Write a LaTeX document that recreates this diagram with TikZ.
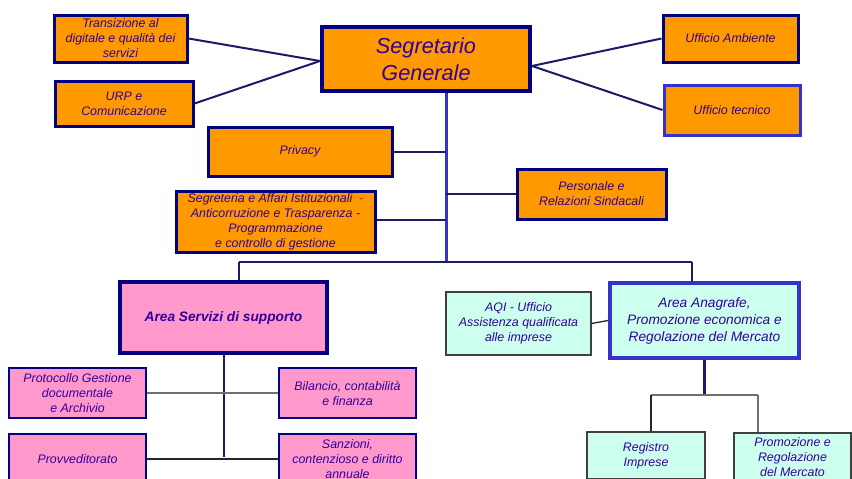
\documentclass[tikz,border=0pt]{standalone}
\usepackage{fontspec}
\setmainfont{Liberation Sans}
\usetikzlibrary{calc}
\definecolor{orng}{HTML}{FF9900}
\definecolor{pnk}{HTML}{FF99CC}
\definecolor{cyn}{HTML}{CCFFEE}
\definecolor{nvy}{HTML}{000080}
\definecolor{mblue}{HTML}{3333CC}
\definecolor{txt}{HTML}{330099}
\definecolor{lnk}{HTML}{1A1A66}
\definecolor{gry}{HTML}{707070}
\tikzset{
  base/.style={rectangle, inner sep=1pt, align=center, text=txt,
    font=\fontsize{12.4}{15}\selectfont\itshape},
  orbox/.style={base, fill=orng, draw=nvy, line width=3pt},
  bigbox/.style={base, fill=orng, draw=nvy, line width=4pt,
    font=\fontsize{21.7}{26.5}\selectfont\itshape},
  pkarea/.style={base, fill=pnk, draw=nvy, line width=4pt,
    font=\fontsize{13.7}{17}\selectfont\bfseries\itshape},
  pkbox/.style={base, fill=pnk, draw=nvy, line width=2.5pt},
  cyarea/.style={base, fill=cyn, draw=mblue, line width=4pt,
    font=\fontsize{13.7}{17}\selectfont\itshape},
  cybox/.style={base, fill=cyn, draw=black!75, line width=1.2pt},
  conn/.style={draw=lnk, line width=2pt},
  spine/.style={draw=mblue, line width=3pt},
  thin/.style={draw=gry, line width=1.3pt},
  thinb/.style={draw=black!85, line width=1.3pt},
}
\begin{document}
\begin{tikzpicture}[x=1pt,y=-1pt]
\useasboundingbox (0,0) rectangle (852,479);
% coordinates
\coordinate (jn) at (446,262);
\coordinate (bl) at (239,262);
\coordinate (br) at (692,262);
\coordinate (ab) at (704.5,395);
\coordinate (ra) at (651,395);
\coordinate (pa) at (758,395);
\coordinate (sb) at (223.5,457);
% connectors (under boxes)
\node[bigbox, minimum width=208pt, minimum height=64pt] (seg) at (426,59) {Segretario\\Generale};
\node[orbox, minimum width=133pt, minimum height=47pt] (trans) at (120.5,38.5) {Transizione al\\digitale e qualità dei\\servizi};
\node[orbox, minimum width=138pt, minimum height=45pt] (urp) at (124,103.5) {URP e\\Comunicazione};
\node[orbox, minimum width=184pt, minimum height=49pt] (priv) at (300,151.5) {Privacy};
\node[orbox, minimum width=199pt, minimum height=61pt] (segr) at (275.5,221.5) {Segreteria e Affari Istituzionali \ \textcolor{red}{-}\\Anticorruzione e Trasparenza -\\Programmazione\\e controllo di gestione};
\node[orbox, minimum width=135pt, minimum height=47pt] (amb) at (730.5,38.5) {Ufficio Ambiente};
\node[orbox, draw=mblue, minimum width=136pt, minimum height=50pt] (tec) at (732,110) {Ufficio tecnico};
\node[orbox, minimum width=149pt, minimum height=50pt] (pers) at (591.5,194) {Personale e\\Relazioni Sindacali};
\node[pkarea, minimum width=207pt, minimum height=71pt] (asup) at (223.5,317.5) {Area Servizi di supporto};
\node[cyarea, minimum width=189pt, minimum height=75pt] (anag) at (704.5,320.5) {Area Anagrafe,\\Promozione economica e\\Regolazione del Mercato};
\node[cybox, minimum width=145pt, minimum height=63pt] (aqi) at (518.5,323.5) {AQI - Ufficio\\Assistenza qualificata\\alle imprese};
\node[pkbox, minimum width=137pt, minimum height=50pt] (prot) at (77.5,393) {Protocollo Gestione\\documentale\\e Archivio};
\node[pkbox, minimum width=137pt, minimum height=50pt] (bil) at (347.5,393) {Bilancio, contabilità\\e finanza};
\node[pkbox, minimum width=137pt, minimum height=50pt] (prov) at (77.5,459) {Provveditorato};
\node[pkbox, minimum width=137pt, minimum height=50pt] (sanz) at (347.5,459) {Sanzioni,\\contenzioso e diritto\\annuale};
\node[cybox, minimum width=118pt, minimum height=47pt] (reg) at (646,455.5) {Registro\\Imprese};
\node[cybox, minimum width=117pt, minimum height=48pt] (prom) at (792.5,457) {Promozione e\\Regolazione\\del Mercato};
% links
\begin{scope}[on background layer/.style={}]
\end{scope}
\draw[conn] (trans.east) -- ($(seg.west)+(0,2)$);
\draw[conn] (urp.east) -- ($(seg.west)+(0,2)$);
\draw[conn] ($(seg.east)+(0,7)$) -- (amb.west);
\draw[conn] ($(seg.east)+(0,7)$) -- (tec.west);
\draw[spine] (seg.south -| jn) -- (jn);
\draw[conn] (priv.east) -- (priv.east -| jn);
\draw[conn] ($(segr.east)+(0,-2)$) -- ($(segr.east -| jn)+(0,-2)$);
\draw[conn] (pers.west) -- (pers.west -| jn);
\draw[conn, line width=1.6pt] (bl) -- (br);
\draw[conn] (bl) -- (bl |- asup.north);
\draw[conn, line width=2.5pt] (br) -- (br |- anag.north);
\draw[thinb] (aqi.east) -- (anag.west);
\draw[conn, line width=2.5pt] (anag.south) -- (ab);
\draw[thin] (ra) -- (pa);
\draw[thinb] (ra) -- (ra |- reg.north);
\draw[thin] (pa) -- (pa |- prom.north);
\draw[conn] (asup.south) -- (sb);
\draw[thin] (prot.east) -- (bil.west);
\draw[thinb] (prov.east) -- (sanz.west);
\end{tikzpicture}
\end{document}
